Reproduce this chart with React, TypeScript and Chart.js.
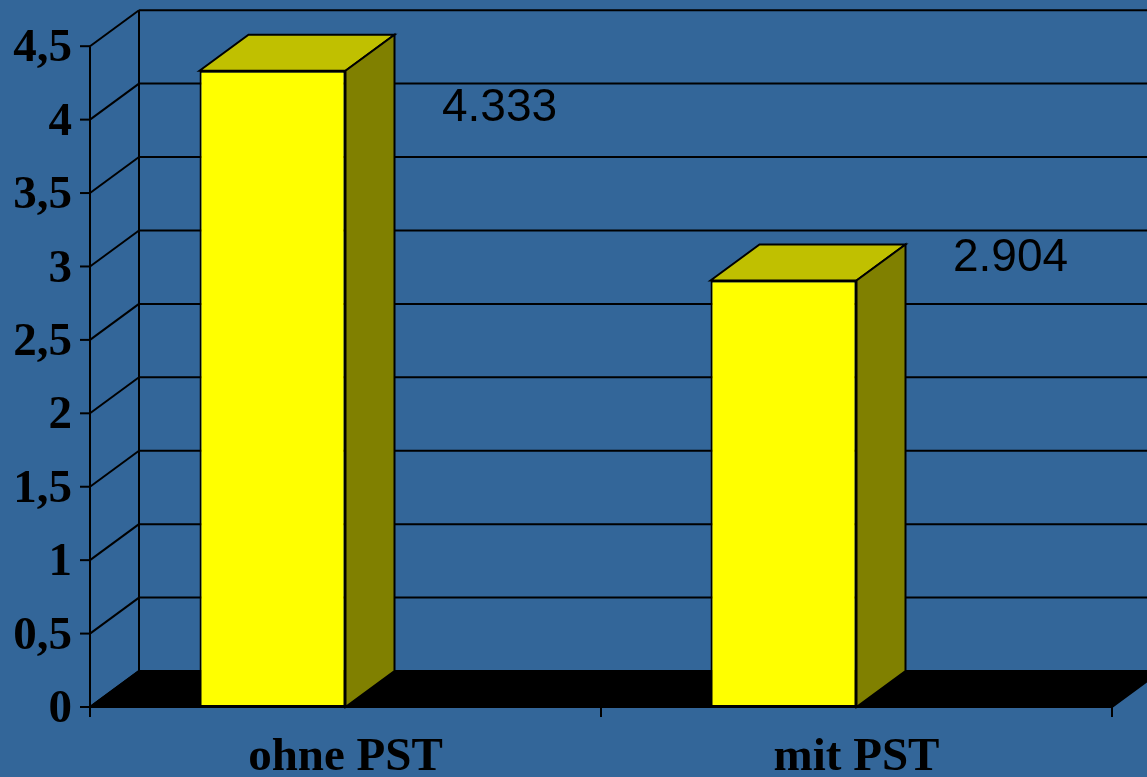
import React, { useEffect, useRef } from "react";
import { Chart, registerables } from "chart.js";

Chart.register(...registerables);

const categories = ["ohne PST", "mit PST"];
const values = [4.333, 2.904];
const valueLabels = ["4.333", "2.904"];
const yTickLabels = ["0", "0,5", "1", "1,5", "2", "2,5", "3", "3,5", "4", "4,5"];

const BG = "#336699";
const DEPTH_X = 49;
const DEPTH_Y = -36;

const threeDPlugin = {
  id: "threeD",
  beforeDraw(chart: any) {
    const { ctx, width, height } = chart;
    ctx.save();
    ctx.fillStyle = BG;
    ctx.fillRect(0, 0, width, height);
    ctx.restore();
  },
  beforeDatasetsDraw(chart: any) {
    const { ctx, chartArea } = chart;
    const y = chart.scales.y;
    const L = chartArea.left;
    const R = chartArea.right;
    const y0 = y.getPixelForValue(y.min);
    const yMax = y.getPixelForValue(y.max);
    ctx.save();
    ctx.strokeStyle = "#000";
    ctx.lineWidth = 2;
    ctx.lineCap = "butt";
    y.ticks.forEach((t: any) => {
      const py = y.getPixelForValue(t.value);
      ctx.beginPath();
      ctx.moveTo(L + DEPTH_X, py + DEPTH_Y);
      ctx.lineTo(R + DEPTH_X, py + DEPTH_Y);
      ctx.stroke();
      ctx.beginPath();
      ctx.moveTo(L, py);
      ctx.lineTo(L + DEPTH_X, py + DEPTH_Y);
      ctx.stroke();
      ctx.beginPath();
      ctx.moveTo(L - 10, py);
      ctx.lineTo(L, py);
      ctx.stroke();
    });
    ctx.beginPath();
    ctx.moveTo(L + DEPTH_X, y0 + DEPTH_Y);
    ctx.lineTo(L + DEPTH_X, yMax + DEPTH_Y);
    ctx.stroke();
    ctx.fillStyle = "#000";
    ctx.beginPath();
    ctx.moveTo(L, y0);
    ctx.lineTo(L + DEPTH_X, y0 + DEPTH_Y);
    ctx.lineTo(R + DEPTH_X, y0 + DEPTH_Y);
    ctx.lineTo(R, y0);
    ctx.closePath();
    ctx.fill();
    ctx.stroke();
    ctx.beginPath();
    ctx.moveTo(L, yMax);
    ctx.lineTo(L, y0 + 10);
    ctx.stroke();
    const n = categories.length;
    for (let i = 0; i <= n; i++) {
      const px = L + (i * (R - L)) / n;
      ctx.beginPath();
      ctx.moveTo(px, y0);
      ctx.lineTo(px, y0 + 10);
      ctx.stroke();
    }
    ctx.restore();
  },
  afterDatasetsDraw(chart: any) {
    const { ctx } = chart;
    const meta = chart.getDatasetMeta(0);
    const xs = chart.scales.x;
    const ys = chart.scales.y;
    ctx.save();
    ctx.strokeStyle = "#000";
    ctx.lineWidth = 2;
    ctx.lineJoin = "miter";
    meta.data.forEach((bar: any) => {
      const p = bar.getProps(["x", "y", "base", "width"], true);
      const l = p.x - p.width / 2;
      const r = p.x + p.width / 2;
      const t = p.y;
      const b = p.base;
      ctx.fillStyle = "#C0C000";
      ctx.beginPath();
      ctx.moveTo(l, t);
      ctx.lineTo(l + DEPTH_X, t + DEPTH_Y);
      ctx.lineTo(r + DEPTH_X, t + DEPTH_Y);
      ctx.lineTo(r, t);
      ctx.closePath();
      ctx.fill();
      ctx.stroke();
      ctx.fillStyle = "#808000";
      ctx.beginPath();
      ctx.moveTo(r, t);
      ctx.lineTo(r + DEPTH_X, t + DEPTH_Y);
      ctx.lineTo(r + DEPTH_X, b + DEPTH_Y);
      ctx.lineTo(r, b);
      ctx.closePath();
      ctx.fill();
      ctx.stroke();
    });
    const nudges = chart.options.plugins.threeD.labelNudgeY;
    ctx.fillStyle = "#000";
    ctx.font = "46px 'Liberation Sans', Arial, sans-serif";
    ctx.textAlign = "center";
    ctx.textBaseline = "alphabetic";
    values.forEach((v, i) => {
      const cx = xs.getPixelForValue(i) + 154;
      const cy = ys.getPixelForValue(v) + nudges[i];
      ctx.fillText(valueLabels[i], cx, cy);
    });
    ctx.restore();
  },
};

export default function App() {
  const ref = useRef<HTMLCanvasElement | null>(null);
  useEffect(() => {
    if (!ref.current) return;
    const chart = new Chart(ref.current, {
      type: "bar",
      data: {
        labels: categories,
        datasets: [
          {
            label: "Wert",
            data: values,
            backgroundColor: "#FFFF00",
            borderColor: "#000000",
            borderWidth: 2,
            borderSkipped: false,
            categoryPercentage: 0.5714,
            barPercentage: 1,
          },
          {
            label: "spacer",
            data: [null, null],
            backgroundColor: "rgba(0,0,0,0)",
            categoryPercentage: 0.5714,
            barPercentage: 1,
          },
        ],
      },
      plugins: [threeDPlugin],
      options: {
        animation: false,
        responsive: false,
        devicePixelRatio: 1,
        layout: { padding: { top: 43, right: 35, left: 0, bottom: 0 } },
        plugins: {
          legend: { display: false },
          tooltip: { enabled: false },
          threeD: { labelNudgeY: [50, -10] },
        } as any,
        scales: {
          x: {
            type: "category",
            offset: true,
            grid: { display: false, drawTicks: false, tickLength: 0 },
            border: { display: false },
            ticks: {
              color: "#000",
              font: { family: "'Liberation Serif', 'Times New Roman', serif", size: 47, weight: "bold" },
              padding: 23,
              maxRotation: 0,
              autoSkip: false,
            },
            afterFit: (s: any) => {
              s.height = 70;
            },
          },
          y: {
            min: 0,
            max: 4.5,
            grid: { display: false, drawTicks: false, tickLength: 0 },
            border: { display: false },
            ticks: {
              stepSize: 0.5,
              color: "#000",
              font: { family: "'Liberation Serif', 'Times New Roman', serif", size: 47, weight: "bold" },
              padding: 18,
              labelOffset: 3,
              callback: (_v: any, i: number) => yTickLabels[i],
            },
            afterFit: (s: any) => {
              s.width = 90;
            },
          },
        } as any,
      },
    });
    return () => chart.destroy();
  }, []);
  return (
    <div style={{ position: "absolute", left: 0, top: 0, width: 1147, height: 777 }}>
      <canvas ref={ref} width={1147} height={777} style={{ display: "block" }} />
    </div>
  );
}
